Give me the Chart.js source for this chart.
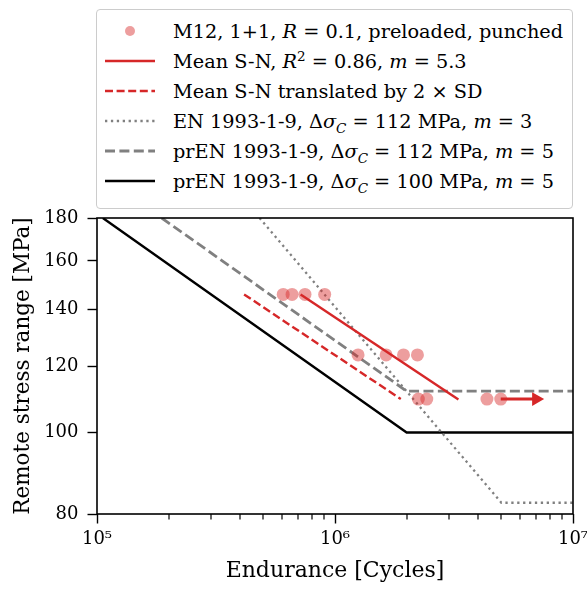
<!DOCTYPE html>
<html>
<head>
<meta charset="utf-8">
<script src="https://cdn.jsdelivr.net/npm/chart.js@4.4.1/dist/chart.umd.min.js"></script>
<style>
  html, body { margin: 0; padding: 0; background: #fff; }
  #wrap { position: relative; width: 587px; height: 592px; }
  #chart { position: absolute; left: 0; top: 0; }
  #legend {
    position: absolute; left: 96px; top: 9px; width: 475px; height: 192px;
    padding-top: 6px; border: 1px solid #cccccc; border-radius: 4px; background: #fff;
    font-family: 'DejaVu Serif', serif; font-size: 19.3px; color: #000;
  }
  .row { height: 30px; display: flex; align-items: center; }
  .row svg { margin-left: 8px; flex: none; }
  .row span { margin-left: 18px; white-space: nowrap; }
  .row sup, .row sub { font-size: 0.7em; line-height: 0; }
</style>
</head>
<body>
<div id="wrap">
  <canvas id="chart" width="587" height="592"></canvas>
  <div id="legend"></div>
</div>
<script>
// Test results: cycles to failure / runout and stress range
const testN = [6.06e5, 6.60e5, 7.48e5, 9.05e5, 1.25e6, 1.64e6, 1.94e6, 2.22e6, 2.24e6, 2.43e6, 4.35e6, 4.97e6];
const testS = [146, 146, 146, 146, 123.7, 123.7, 123.7, 123.7, 109.6, 109.6, 109.6, 109.6];

// Runout arrow
const runoutN = [4.97e6, 7.0e6];
const runoutS = [109.6, 109.6];

// Mean S-N curve and translated curve
const meanN = [7.17e5, 3.30e6];
const meanS = [146, 109.5];
const sdN = [4.15e5, 1.89e6];
const sdS = [146, 109.6];

// Design curves
const enN = [4.82e5, 5e6, 1e7];
const enS = [180, 82.5, 82.5];
const pr112N = [1.87e5, 2e6, 1e7];
const pr112S = [180, 112, 112];
const pr100N = [1.058e5, 2e6, 1e7];
const pr100S = [180, 100, 100];

// Axis ticks
const xMajorTicks = [1e5, 1e6, 1e7];
const xMajorLabels = ['10\u2075', '10\u2076', '10\u2077'];
const yTicks = [80, 100, 120, 140, 160, 180];

const seriesLabels = [
    'M12, 1+1, <i>R</i> = 0.1, preloaded, punched',
    'Mean S-N, <i>R</i><sup>2</sup> = 0.86, <i>m</i> = 5.3',
    'Mean S-N translated by 2 \u00d7 SD',
    'EN 1993-1-9, \u0394<i>\u03c3</i><sub><i>C</i></sub> = 112 MPa, <i>m</i> = 3',
    'prEN 1993-1-9, \u0394<i>\u03c3</i><sub><i>C</i></sub> = 112 MPa, <i>m</i> = 5',
    'prEN 1993-1-9, \u0394<i>\u03c3</i><sub><i>C</i></sub> = 100 MPa, <i>m</i> = 5'
];

const RED = '#d62728';
const GRAY = '#808080';
const FONT = "'DejaVu Serif', serif";

function toPoints(xs, ys) {
    return xs.map(function(x, i) { return { x: x, y: ys[i] }; });
}

// minor x ticks 2..9 per decade
const xMinorTicks = [];
for (let d = 1e5; d < 1e7; d *= 10) {
    for (let k = 2; k <= 9; k++) xMinorTicks.push(k * d);
}

// minor ticks + full box around the plot
const frameAndMinor = {
    id: 'frameAndMinor',
    afterDraw(chart) {
        const ctx = chart.ctx;
        const a = chart.chartArea;
        const xs = chart.scales.x;
        ctx.save();
        ctx.strokeStyle = '#000';
        ctx.lineWidth = 1.2;
        xMinorTicks.forEach(function(v) {
            const px = Math.round(xs.getPixelForValue(v));
            ctx.beginPath();
            ctx.moveTo(px, a.bottom);
            ctx.lineTo(px, a.bottom + 5.5);
            ctx.stroke();
        });
        ctx.lineWidth = 1.6;
        ctx.strokeRect(a.left, a.top, a.right - a.left, a.bottom - a.top);
        ctx.restore();
    }
};

const datasets = [
    {
        label: 'M12, 1+1, R = 0.1, preloaded, punched',
        data: toPoints(testN, testS),
        showLine: false,
        pointRadius: 6.5,
        pointBackgroundColor: 'rgba(214,39,40,0.45)',
        pointBorderWidth: 0,
        order: 0
    },
    {
        label: 'Mean S-N',
        data: toPoints(meanN, meanS),
        showLine: true, borderColor: RED, borderWidth: 2.4, pointRadius: 0, order: 2
    },
    {
        label: 'Mean S-N translated by 2 x SD',
        data: toPoints(sdN, sdS),
        showLine: true, borderColor: RED, borderWidth: 2.4, borderDash: [8, 3.6], pointRadius: 0, order: 3
    },
    {
        label: 'EN 1993-1-9',
        data: toPoints(enN, enS),
        showLine: true, borderColor: GRAY, borderWidth: 2.3, borderDash: [2.3, 3.6], pointRadius: 0, order: 4
    },
    {
        label: 'prEN 1993-1-9 112',
        data: toPoints(pr112N, pr112S),
        showLine: true, borderColor: GRAY, borderWidth: 2.8, borderDash: [10, 4.4], pointRadius: 0, order: 5
    },
    {
        label: 'prEN 1993-1-9 100',
        data: toPoints(pr100N, pr100S),
        showLine: true, borderColor: '#000', borderWidth: 2.4, pointRadius: 0, order: 6
    },
    {
        label: '',
        data: toPoints(runoutN, runoutS),
        showLine: true, borderColor: RED, borderWidth: 3,
        pointRadius: [0, 8], pointStyle: 'triangle', rotation: 90,
        pointBackgroundColor: RED, pointBorderWidth: 0, order: 1
    }
];

const config = {
    type: 'scatter',
    data: { datasets: datasets },
    options: {
        responsive: false,
        animation: false,
        layout: { padding: { left: 0, top: 218, right: 14, bottom: 0 } },
        plugins: { legend: { display: false }, tooltip: { enabled: false } },
        scales: {
            x: {
                type: 'logarithmic',
                min: 1e5,
                max: 1e7,
                afterBuildTicks: function(scale) {
                    scale.ticks = xMajorTicks.map(function(v) { return { value: v, major: true }; });
                },
                afterFit: function(scale) {
                    scale.height = 78;
                    scale.paddingLeft = 0;
                    scale.paddingRight = 0;
                },
                border: { display: false },
                grid: { drawOnChartArea: false, drawTicks: true, tickLength: 9.5, tickWidth: 1.4, tickColor: '#000' },
                ticks: {
                    autoSkip: false, maxRotation: 0, padding: 5,
                    color: '#000', font: { family: FONT, size: 18 },
                    callback: function(value) {
                        const i = xMajorTicks.indexOf(value);
                        return i >= 0 ? xMajorLabels[i] : '';
                    }
                },
                title: {
                    display: true, text: 'Endurance [Cycles]', color: '#000',
                    font: { family: FONT, size: 22 }, padding: { top: 0, bottom: 8 }
                }
            },
            y: {
                type: 'logarithmic',
                min: 80,
                max: 180,
                afterBuildTicks: function(scale) {
                    scale.ticks = yTicks.map(function(v) { return { value: v }; });
                },
                afterFit: function(scale) {
                    scale.width = 97;
                    scale.paddingTop = 0;
                    scale.paddingBottom = 0;
                },
                border: { display: false },
                grid: { drawOnChartArea: false, drawTicks: true, tickLength: 9.5, tickWidth: 1.4, tickColor: '#000' },
                ticks: {
                    autoSkip: false, padding: 9,
                    color: '#000', font: { family: FONT, size: 18 },
                    callback: function(value) { return String(value); }
                },
                title: {
                    display: true, text: 'Remote stress range [MPa]', color: '#000',
                    font: { family: FONT, size: 21.5 }, padding: { top: 11, bottom: 0 }
                }
            }
        }
    },
    plugins: [frameAndMinor]
};

const chart = new Chart(document.getElementById('chart').getContext('2d'), config);

// HTML legend built from the datasets (needs italic / sub / sup text)
function buildLegend(chart) {
    const box = document.getElementById('legend');
    chart.data.datasets.forEach(function(ds, i) {
        if (!seriesLabels[i]) return;
        const row = document.createElement('div');
        row.className = 'row';
        let handle;
        if (ds.showLine === false) {
            handle = '<circle cx="25" cy="15" r="5" fill="' + ds.pointBackgroundColor + '"/>';
        } else {
            const dash = ds.borderDash ? ' stroke-dasharray="' + ds.borderDash.join(',') + '"' : '';
            handle = '<line x1="0" y1="15" x2="50" y2="15" stroke="' + ds.borderColor +
                '" stroke-width="' + ds.borderWidth + '"' + dash + '/>';
        }
        row.innerHTML = '<svg width="50" height="30">' + handle + '</svg><span>' + seriesLabels[i] + '</span>';
        box.appendChild(row);
    });
}
buildLegend(chart);
</script>
</body>
</html>
